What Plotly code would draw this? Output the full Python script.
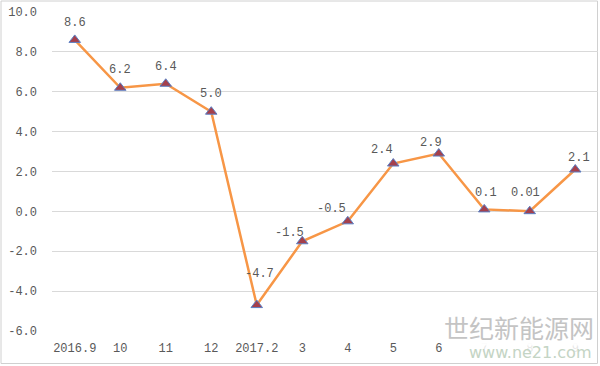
import plotly.graph_objects as go

categories = ["2016.9", "10", "11", "12", "2017.2", "3", "4", "5", "6", "7", "8", "9"]
values = [8.6, 6.2, 6.4, 5.0, -4.7, -1.5, -0.5, 2.4, 2.9, 0.1, 0.01, 2.1]
value_labels = ["8.6", "6.2", "6.4", "5.0", "-4.7", "-1.5", "-0.5", "2.4", "2.9", "0.1", "0.01", "2.1"]
y_ticks = [-6, -4, -2, 0, 2, 4, 6, 8, 10]
y_tick_text = ["-6.0", "-4.0", "-2.0", "0.0", "2.0", "4.0", "6.0", "8.0", "10.0"]

# label offsets (px) relative to points
label_dx = [0, 0, 0, 0, 3, -13, -16, -11, -8, 2, -4, 4]
label_dy = [17, 18, 17, 18, 31, 8, 12, 14, 11, 16, 18, 12]

FONT = "Liberation Mono"
TXT = "#595959"

xpos = list(range(len(categories)))

fig = go.Figure()
fig.add_trace(go.Scatter(
    x=xpos, y=values, mode="lines+markers",
    line=dict(color="#F79646", width=2.5),
    marker=dict(symbol="triangle-up", size=10, color="#A5404C",
                line=dict(color="#5B7FC4", width=1)),
    hoverinfo="skip", showlegend=False,
))

for xi, v, t, dx, dy in zip(xpos, values, value_labels, label_dx, label_dy):
    fig.add_annotation(x=xi, y=v, text=t, showarrow=False, xshift=dx, yshift=dy,
                       font=dict(family=FONT, size=12, color=TXT))

L, R, T, B = 52, 2, 12, 35
W, H = 600, 366
pw, ph = W - L - R, H - T - B

# outer frame
fig.add_shape(type="rect", xref="paper", yref="paper",
              x0=-(L - 1) / pw, x1=1 + (R - 2.5) / pw,
              y0=-(B - 2.5) / ph, y1=1 + (T - 1) / ph,
              line=dict(color="#D0D0D0", width=1), fillcolor="rgba(0,0,0,0)", layer="below")

# watermark
fig.add_annotation(xref="paper", yref="paper", x=1 - 3 / pw, y=4 / ph,
                   xanchor="right", yanchor="middle", showarrow=False,
                   text="世纪新能源网", bgcolor="rgba(255,255,255,0.85)", borderpad=0,
                   font=dict(family="Noto Sans CJK SC", size=25, color="#C4C4C4"))
fig.add_annotation(xref="paper", yref="paper", x=1 - 6 / pw, y=-21 / ph,
                   xanchor="right", yanchor="middle", showarrow=False,
                   text="www.ne21.com", bgcolor="rgba(255,255,255,0.85)", borderpad=0,
                   font=dict(family="DejaVu Sans", size=16, color="#C4D4C4"))

fig.update_layout(
    width=W, height=H,
    margin=dict(l=L, r=R, t=T, b=B, autoexpand=False),
    paper_bgcolor="white", plot_bgcolor="white",
    font=dict(family=FONT, size=12, color=TXT),
    xaxis=dict(range=[-0.5, len(categories) - 0.5], tickvals=xpos, ticktext=categories,
               showgrid=False, showline=False, zeroline=False,
               ticks="", ticklabelstandoff=8,
               tickfont=dict(family=FONT, size=12, color=TXT)),
    yaxis=dict(range=[-6, 10], tickvals=y_ticks, ticktext=y_tick_text,
               showgrid=True, gridcolor="#D9D9D9", gridwidth=1,
               zeroline=False, showline=False, ticks="", ticklabelstandoff=14,
               tickfont=dict(family=FONT, size=12, color=TXT)),
)

fig.write_html("out.html", config={"displayModeBar": False},
               post_script="document.body.style.margin='0';")
